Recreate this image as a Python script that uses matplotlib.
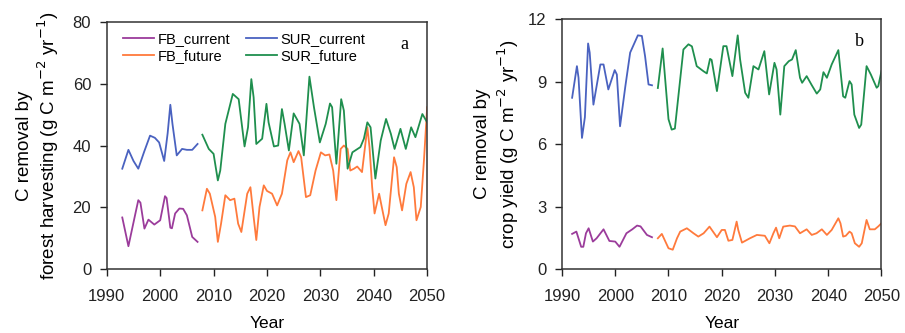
import numpy as np
from matplotlib import pyplot as plt

plt.rcParams['font.family'] = ['Liberation Sans', 'DejaVu Sans']

#--- panel a : C removal by forest harvesting ---
yr_fbc_a = [1992.9, 1994.05, 1995.3, 1995.9, 1996.3, 1997.05, 1997.8, 1998.9, 2000.0, 2000.9, 2001.2, 2001.9, 2002.2, 2002.8, 2003.6, 2004.3, 2005.0, 2006.0, 2007.0]
fbc_a = [16.7, 7.4, 17.5, 22.3, 21.5, 13.1, 16.0, 14.4, 15.8, 23.6, 23.0, 13.4, 13.2, 18.0, 19.6, 19.5, 17.4, 10.4, 8.8]

yr_surc_a = [1992.9, 1994.05, 1995.0, 1995.9, 1997.0, 1998.1, 1999.0, 1999.8, 2000.75, 2001.4, 2001.9, 2002.3, 2003.1, 2004.1, 2005.0, 2006.0, 2007.0]
surc_a = [32.5, 38.6, 35.0, 32.5, 38.0, 43.2, 42.5, 41.0, 35.0, 44.0, 53.2, 47.0, 36.8, 38.9, 38.6, 38.6, 40.5]

yr_fbf_a = [2007.9, 2008.75, 2009.3, 2010.3, 2010.8, 2011.4, 2012.2, 2013.1, 2013.9, 2014.6, 2015.2, 2016.3, 2016.9, 2017.5, 2018.0, 2018.6, 2019.4,
            2020.0, 2020.95, 2021.9, 2022.8, 2023.8, 2024.4, 2025.0, 2025.9, 2026.4, 2027.3, 2028.1, 2029.1, 2030.1, 2030.9, 2031.7, 2032.4,
            2033.0, 2033.8, 2034.4, 2035.1, 2035.6, 2036.3, 2036.9, 2037.8, 2038.8, 2039.2, 2039.7, 2040.15, 2041.0, 2041.5, 2042.2, 2042.8,
            2043.8, 2044.3, 2044.7, 2045.3, 2046.1, 2046.9, 2047.5, 2048.0, 2048.8, 2049.4, 2050.0]
fbf_a = [19.0, 26.0, 24.4, 16.9, 8.8, 14.7, 23.9, 22.3, 22.8, 14.7, 12.0, 24.4, 26.5, 16.9, 9.4, 20.1, 27.1,
         25.3, 24.4, 20.6, 24.4, 35.2, 37.8, 34.6, 38.2, 36.2, 23.3, 23.9, 31.9, 37.8, 36.8, 37.1, 31.9,
         22.3, 38.9, 40.0, 38.9, 31.9, 32.5, 33.2, 31.4, 45.9, 39.5, 26.5, 18.0, 24.4, 20.1, 14.2, 18.0,
         36.2, 33.0, 24.4, 19.0, 27.6, 31.4, 26.5, 15.8, 20.1, 35.2, 52.4]

yr_surf_a = [2007.9, 2009.1, 2010.0, 2010.8, 2011.25, 2012.2, 2013.6, 2014.7, 2015.8, 2016.45, 2017.07, 2017.5, 2018.0, 2019.1, 2019.9,
             2020.3, 2021.3, 2022.1, 2022.8, 2023.3, 2024.1, 2025.0, 2026.1, 2026.9, 2027.95, 2028.8, 2029.9, 2031.0, 2031.8, 2032.2,
             2033.0, 2033.9, 2034.4, 2035.1, 2036.0, 2037.5, 2038.15, 2038.8, 2039.4, 2040.3, 2041.3, 2042.3, 2043.2, 2043.9, 2045.0,
             2046.0, 2047.0, 2047.8, 2049.1, 2050.0]
surf_a = [43.5, 38.9, 37.3, 28.7, 31.9, 47.0, 56.7, 55.0, 39.7, 45.9, 61.5, 55.6, 40.5, 42.2, 53.5,
          47.5, 39.7, 40.0, 51.8, 47.0, 38.4, 50.4, 47.0, 36.8, 62.3, 52.4, 41.0, 47.0, 53.6, 52.4,
          34.1, 55.0, 51.3, 32.5, 37.8, 39.5, 42.2, 47.5, 45.9, 29.3, 41.6, 48.6, 43.8, 38.9, 45.4,
          38.9, 45.9, 42.7, 50.2, 47.5]

#--- panel b : C removal by crop yield ---
yr_fbc_b = [1991.9, 1992.7, 1993.6, 1994.0, 1994.5, 1995.0, 1995.8, 1996.5, 1997.8, 1998.9, 2000.0, 2000.8, 2002.1, 2003.2, 2004.1, 2004.75, 2005.95, 2006.9]
fbc_b = [1.69, 1.80, 1.07, 1.07, 1.72, 1.96, 1.32, 1.48, 1.91, 1.35, 1.32, 1.07, 1.72, 1.91, 2.09, 2.05, 1.64, 1.53]

yr_surc_b = [1991.9, 1992.8, 1993.1, 1993.75, 1994.3, 1994.9, 1995.2, 1995.9, 1997.2, 1997.8, 1998.7, 1999.9, 2000.3, 2000.9, 2001.9, 2002.8, 2004.25, 2005.0, 2005.6, 2006.25, 2006.9]
surc_b = [8.23, 9.75, 9.2, 6.3, 7.3, 10.84, 10.4, 7.9, 9.83, 9.83, 8.63, 9.56, 9.35, 6.86, 8.79, 10.4, 11.23, 11.2, 10.23, 8.87, 8.83]

yr_fbf_b = [2008.0, 2008.75, 2010.0, 2010.8, 2011.6, 2012.2, 2013.45, 2014.7, 2015.6, 2016.6, 2017.7, 2019.1, 2020.0, 2020.6, 2021.25,
            2022.0, 2022.8, 2023.1, 2023.8, 2025.3, 2026.6, 2028.1, 2028.95, 2029.7, 2030.2, 2030.8, 2031.55, 2032.8, 2033.75, 2034.7,
            2035.95, 2036.9, 2037.8, 2038.8, 2039.75, 2040.65, 2041.9, 2042.3, 2042.8, 2043.3, 2044.0, 2044.4, 2045.0, 2045.8, 2046.3,
            2047.2, 2047.8, 2048.75, 2049.4, 2050.0]
fbf_b = [1.48, 1.69, 1.00, 0.93, 1.48, 1.80, 1.96, 1.72, 1.56, 1.72, 2.04, 1.53, 1.88, 1.88, 1.36,
         1.40, 2.28, 1.88, 1.27, 1.48, 1.64, 1.60, 1.24, 1.72, 1.99, 1.48, 2.04, 2.09, 2.05, 1.72,
         1.91, 1.64, 1.72, 1.91, 1.64, 1.88, 2.44, 2.20, 1.56, 1.60, 1.80, 1.72, 1.24, 1.07, 1.24,
         2.36, 1.91, 1.91, 2.05, 2.20]

yr_surf_b = [2008.0, 2008.9, 2010.0, 2010.6, 2011.2, 2012.8, 2013.75, 2014.4, 2015.3, 2016.6, 2017.2, 2017.8, 2018.1, 2019.1, 2020.3,
             2020.9, 2022.0, 2023.0, 2023.45, 2024.4, 2025.0, 2025.95, 2026.9, 2028.0, 2028.9, 2029.9, 2030.3, 2031.0, 2031.75, 2032.6,
             2033.2, 2033.9, 2034.7, 2035.1, 2035.95, 2036.9, 2037.85, 2038.5, 2039.1, 2039.75, 2040.65, 2041.9, 2042.8, 2043.2, 2044.0,
             2044.4, 2044.9, 2045.8, 2046.2, 2047.2, 2048.0, 2049.1, 2049.4, 2050.0]
surf_b = [8.70, 10.60, 7.20, 6.70, 6.75, 10.55, 10.80, 10.70, 9.75, 9.50, 9.40, 10.10, 10.05, 8.55, 10.71,
          10.71, 9.27, 11.23, 10.07, 8.47, 8.23, 9.75, 9.59, 10.47, 8.39, 9.91, 9.59, 7.42, 9.75, 9.99,
          10.07, 10.52, 9.19, 8.95, 9.27, 8.84, 8.43, 8.63, 9.46, 9.19, 9.83, 10.52, 8.30, 8.23, 9.03,
          8.87, 7.42, 6.78, 6.94, 9.75, 9.35, 8.71, 8.79, 9.51]

c_fbc = '#9b3c9b'
c_surc = '#4a62c0'
c_fbf = '#ff7a3c'
c_surf = '#1f8f4e'
lw = 1.3

fig = plt.figure(figsize=(9.05, 3.33), dpi=100)
ax1 = fig.add_axes([0.118, 0.192, 0.354, 0.742])
ax2 = fig.add_axes([0.621, 0.192, 0.353, 0.750])

#---------panel a---------
ax1.plot(yr_fbc_a, fbc_a, color=c_fbc, lw=lw, label='FB_current')
ax1.plot(yr_fbf_a, fbf_a, color=c_fbf, lw=lw, label='FB_future')
ax1.plot(yr_surc_a, surc_a, color=c_surc, lw=lw, label='SUR_current')
ax1.plot(yr_surf_a, surf_a, color=c_surf, lw=lw, label='SUR_future')
ax1.set_ylim(0, 80)
ax1.set_yticks([0, 20, 40, 60, 80])
ax1.set_ylabel('C removal by\nforest harvesting (g C m$^{-2}$ yr$^{-1}$)', fontsize=13.5,
               labelpad=8, linespacing=1.15)
ax1.legend(ncol=2, loc='upper left', frameon=False, fontsize=10.5, handlelength=2.1,
           handletextpad=0.25, columnspacing=1.1, labelspacing=0.2, borderaxespad=0.3,
           bbox_to_anchor=(0.02, 1.0))
ax1.text(0.93, 0.91, 'a', transform=ax1.transAxes, fontsize=13, family='Liberation Serif',
         ha='center', va='center')

#---------panel b---------
ax2.plot(yr_fbc_b, fbc_b, color=c_fbc, lw=lw)
ax2.plot(yr_fbf_b, fbf_b, color=c_fbf, lw=lw)
ax2.plot(yr_surc_b, surc_b, color=c_surc, lw=lw)
ax2.plot(yr_surf_b, surf_b, color=c_surf, lw=lw)
ax2.set_ylim(0, 12)
ax2.set_yticks([0, 3, 6, 9, 12])
ax2.set_ylabel('C removal by\ncrop yield (g C m$^{-2}$ yr$^{-1}$)', fontsize=13.5,
               labelpad=5, linespacing=1.25)
ax2.text(0.93, 0.91, 'b', transform=ax2.transAxes, fontsize=13, family='Liberation Serif',
         ha='center', va='center')

for ax in (ax1, ax2):
    ax.set_xlim(1990, 2050)
    ax.set_xticks(np.arange(1990, 2051, 10))
    ax.set_xlabel('Year', fontsize=12.5, labelpad=8.5)
    ax.tick_params(direction='out', length=4.7, width=1, labelsize=12, colors='#222222')
    ax.tick_params(axis='x', pad=9.5)
    ax.tick_params(axis='y', pad=6.5)
    for s in ax.spines.values():
        s.set_linewidth(1.1)
        s.set_color('#333333')

fig.savefig('out.png', dpi=100)
